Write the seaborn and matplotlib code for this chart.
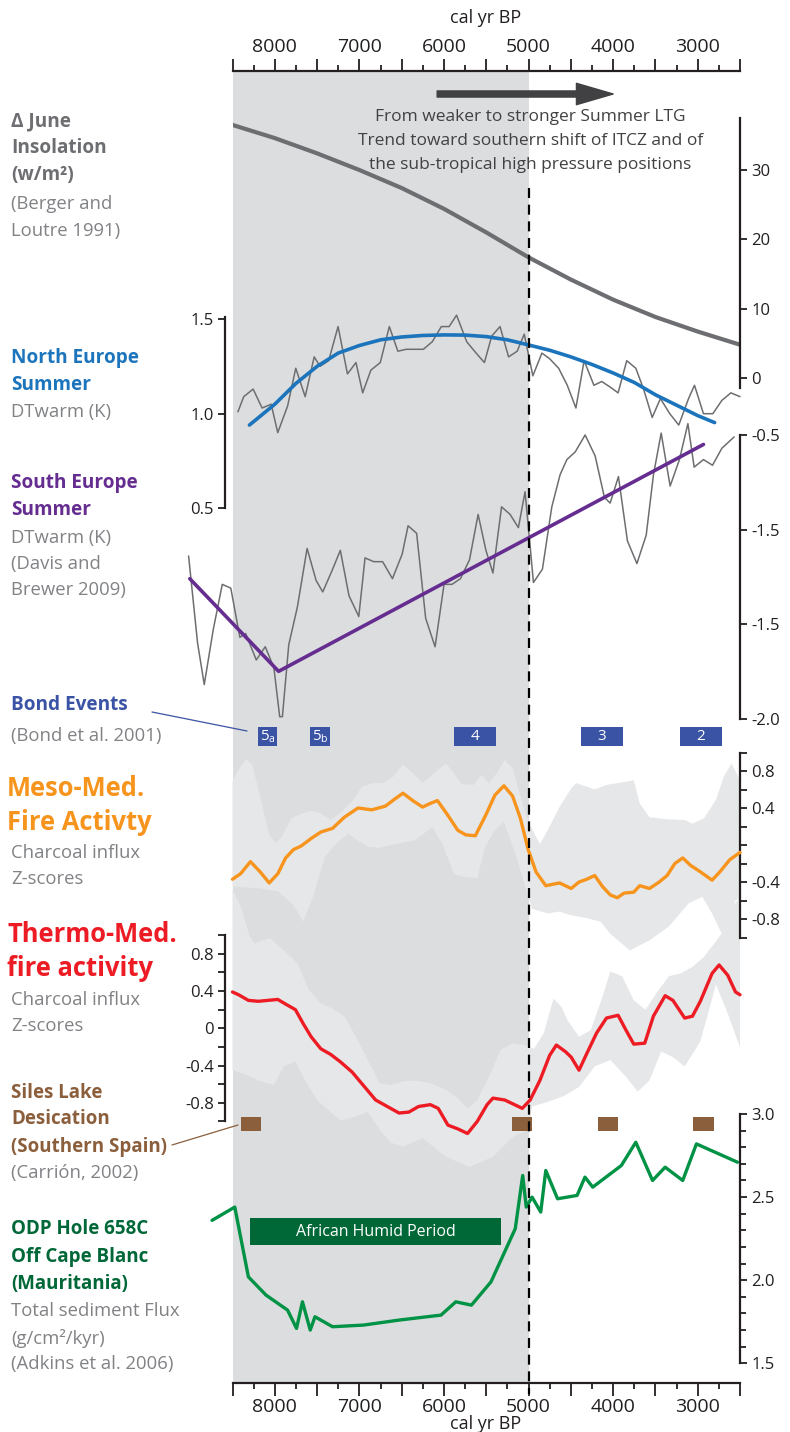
import numpy as np
import matplotlib.pyplot as plt
import seaborn as sns
from matplotlib.ticker import FixedLocator

# ---------------- data (cal yr BP on x) ----------------
ins_years = [8500, 8000, 7500, 7000, 6500, 6000, 5500, 5000, 4500, 4000, 3500, 3000, 2500]
ins_vals = [36.5, 34.6, 32.4, 30.0, 27.4, 24.4, 21.0, 17.4, 14.2, 11.3, 8.8, 6.7, 4.8]

ne_years = [8436, 8367, 8256, 8150, 8043, 7965, 7849, 7752, 7641, 7534, 7465, 7363, 7252, 7141, 7040,
            6961, 6864, 6753, 6646, 6545, 6447, 6346, 6244, 6138, 6031, 5939, 5851, 5731, 5620, 5522,
            5435, 5337, 5236, 5134, 5051, 4949, 4842, 4750, 4644, 4542, 4440, 4343, 4227, 4135, 4033,
            3941, 3839, 3732, 3640, 3538, 3441, 3330, 3224, 3108, 3038, 2932, 2821, 2715, 2608, 2500]
ne_vals = [1.01, 1.09, 1.13, 1.03, 1.05, 0.90, 1.04, 1.24, 1.09, 1.30, 1.25, 1.28, 1.46, 1.21, 1.27,
           1.11, 1.23, 1.27, 1.46, 1.33, 1.34, 1.34, 1.34, 1.38, 1.46, 1.46, 1.52, 1.38, 1.32, 1.27,
           1.41, 1.46, 1.30, 1.33, 1.42, 1.20, 1.32, 1.29, 1.24, 1.15, 1.03, 1.28, 1.15, 1.17, 1.14,
           1.11, 1.28, 1.24, 1.13, 0.98, 1.08, 1.00, 0.94, 1.08, 1.15, 1.00, 1.00, 1.07, 1.11, 1.09]
ne_fit_years = [8300, 8000, 7750, 7500, 7250, 7000, 6750, 6500, 6250, 6000, 5750, 5500, 5250, 5000,
                4750, 4500, 4250, 4000, 3750, 3500, 3250, 3000, 2800]
ne_fit_vals = [0.94, 1.05, 1.16, 1.25, 1.32, 1.36, 1.39, 1.405, 1.413, 1.416, 1.415, 1.407, 1.39, 1.363,
               1.335, 1.30, 1.26, 1.215, 1.165, 1.10, 1.045, 0.99, 0.953]

se_years = [9019, 8913, 8834, 8728, 8621, 8520, 8413, 8344, 8219, 8113, 8011, 7942, 7910, 7835, 7733,
            7618, 7511, 7433, 7326, 7225, 7123, 7007, 6933, 6831, 6725, 6609, 6494, 6424, 6323, 6216,
            6105, 5999, 5906, 5805, 5698, 5596, 5504, 5421, 5319, 5218, 5120, 5041, 4942, 4836, 4725,
            4627, 4547, 4449, 4331, 4213, 4103, 4035, 3937, 3831, 3719, 3609, 3523, 3432, 3326, 3216,
            3116, 3042, 2932, 2825, 2714, 2569]
se_vals = [-1.14, -1.60, -1.82, -1.53, -1.29, -1.31, -1.57, -1.55, -1.69, -1.62, -1.73, -1.99, -1.99, -1.61, -1.41,
           -1.10, -1.27, -1.33, -1.22, -1.11, -1.35, -1.46, -1.15, -1.17, -1.17, -1.26, -1.13, -0.98, -1.02, -1.47,
           -1.62, -1.29, -1.29, -1.26, -1.16, -0.92, -1.11, -1.23, -0.88, -0.92, -0.99, -0.80, -1.28, -1.21, -0.88,
           -0.71, -0.63, -0.59, -0.50, -0.61, -0.83, -0.86, -0.72, -1.06, -1.18, -1.03, -0.71, -0.49, -0.77, -0.63,
           -0.44, -0.67, -0.63, -0.66, -0.57, -0.51]
se_trend_years = [9005, 7955, 2932]
se_trend_vals = [-1.26, -1.75, -0.55]

bond_labels = ['5$_\\mathrm{a}$', '5$_\\mathrm{b}$', '4', '3', '2']
bond_start = [8200, 7580, 5880, 4380, 3210]
bond_end = [7970, 7350, 5380, 3880, 2710]

meso_years = [8500, 8404, 8288, 8173, 8066, 7964, 7872, 7780, 7687, 7571, 7456, 7317, 7178, 7016, 6854,
              6693, 6577, 6485, 6369, 6253, 6161, 6077, 5953, 5837, 5744, 5629, 5513, 5397, 5291, 5189,
              5097, 5004, 4912, 4796, 4634, 4496, 4403, 4311, 4218, 4125, 4033, 3950, 3871, 3756, 3686,
              3570, 3455, 3362, 3270, 3177, 3085, 2969, 2830, 2738, 2622, 2500]
meso_vals = [-0.37, -0.31, -0.18, -0.29, -0.41, -0.31, -0.14, -0.05, -0.01, 0.07, 0.14, 0.18, 0.30, 0.40, 0.38,
             0.42, 0.50, 0.56, 0.48, 0.41, 0.45, 0.48, 0.32, 0.16, 0.11, 0.10, 0.31, 0.54, 0.64, 0.53,
             0.29, -0.05, -0.29, -0.44, -0.41, -0.47, -0.40, -0.37, -0.33, -0.45, -0.54, -0.57, -0.52, -0.51, -0.44,
             -0.47, -0.40, -0.33, -0.20, -0.14, -0.22, -0.29, -0.38, -0.29, -0.16, -0.08]
meso_hi_years = [8500, 8404, 8335, 8265, 8173, 8066, 7988, 7918, 7803, 7687, 7571, 7456, 7340, 7224, 7086,
                 6970, 6854, 6716, 6600, 6485, 6392, 6253, 6114, 5976, 5883, 5791, 5652, 5560, 5467, 5374,
                 5282, 5189, 5027, 4935, 4865, 4773, 4634, 4496, 4440, 4311, 4218, 4079, 3941, 3756, 3686,
                 3570, 3385, 3154, 3062, 2923, 2784, 2692, 2599, 2500]
meso_hi = [0.69, 0.85, 0.93, 0.87, 0.52, 0.11, 0.02, 0.09, 0.29, 0.34, 0.37, 0.34, 0.27, 0.35, 0.47,
           0.63, 0.67, 0.67, 0.74, 0.87, 0.80, 0.67, 0.78, 0.88, 0.78, 0.66, 0.65, 0.76, 0.67, 0.78,
           0.92, 0.83, 0.31, 0.13, 0.01, 0.16, 0.41, 0.61, 0.67, 0.63, 0.60, 0.65, 0.67, 0.70, 0.45,
           0.30, 0.28, 0.27, 0.23, 0.29, 0.49, 0.74, 0.88, 0.70]
meso_lo_years = [8500, 8173, 7964, 7780, 7664, 7548, 7409, 7271, 7132, 6900, 6762, 6577, 6346, 6138, 6022,
                 5883, 5791, 5606, 5513, 5397, 5291, 5143, 5051, 4958, 4773, 4634, 4496, 4311, 4148, 4033,
                 3802, 3570, 3339, 3108, 2946, 2830, 2715, 2553, 2500]
meso_lo = [-0.45, -0.47, -0.50, -0.65, -0.83, -0.56, -0.13, 0.02, 0.12, -0.02, -0.03, 0.01, 0.05, 0.19, 0.02,
           -0.31, -0.34, -0.36, -0.02, 0.16, 0.25, -0.13, -0.42, -0.69, -0.74, -0.72, -0.76, -0.79, -0.83, -0.96,
           -1.14, -1.03, -0.88, -0.63, -0.56, -0.74, -0.96, -0.60, -0.58]

thermo_years = [8500, 8427, 8312, 8196, 8080, 7965, 7872, 7756, 7664, 7571, 7456, 7340, 7225, 7086, 6947,
                6808, 6670, 6531, 6415, 6300, 6161, 6068, 5953, 5837, 5721, 5606, 5490, 5421, 5282, 5166,
                5074, 4981, 4866, 4750, 4671, 4565, 4496, 4403, 4311, 4195, 4079, 3941, 3848, 3756, 3626,
                3524, 3385, 3293, 3154, 3062, 2969, 2830, 2747, 2645, 2553, 2500]
thermo_vals = [0.39, 0.36, 0.30, 0.29, 0.30, 0.31, 0.26, 0.20, 0.05, -0.09, -0.22, -0.28, -0.36, -0.47, -0.62,
               -0.77, -0.84, -0.91, -0.90, -0.84, -0.82, -0.86, -1.04, -1.08, -1.13, -1.00, -0.82, -0.75, -0.77, -0.82,
               -0.86, -0.77, -0.56, -0.29, -0.18, -0.25, -0.31, -0.45, -0.27, -0.05, 0.11, 0.14, -0.02, -0.17, -0.16,
               0.13, 0.35, 0.30, 0.11, 0.13, 0.29, 0.59, 0.68, 0.57, 0.39, 0.36]
thermo_hi_years = [8500, 8400, 8300, 8242, 8057, 7872, 7733, 7595, 7456, 7317, 7178, 7040, 6901, 6762, 6623,
                   6485, 6346, 6161, 5976, 5837, 5721, 5606, 5467, 5328, 5189, 5051, 4935, 4819, 4704, 4611,
                   4542, 4403, 4264, 4125, 4033, 3894, 3756, 3617, 3478, 3339, 3200, 3062, 2923, 2830, 2715,
                   2600, 2500]
thermo_hi = [1.5, 1.3, 1.0, 0.91, 0.97, 0.82, 0.70, 0.41, 0.27, 0.21, 0.13, -0.09, -0.34, -0.59, -0.61,
             -0.57, -0.56, -0.59, -0.66, -0.75, -0.86, -0.77, -0.52, -0.23, -0.16, -0.18, -0.22, -0.05, 0.32, 0.23,
             0.09, -0.09, -0.02, 0.34, 0.61, 0.56, 0.30, 0.20, 0.39, 0.56, 0.59, 0.66, 0.77, 0.88, 1.02,
             1.3, 1.4]
thermo_lo_years = [8500, 8335, 8196, 8011, 7895, 7756, 7641, 7502, 7363, 7225, 7050, 6900, 6750, 6623, 6485,
                   6253, 5976, 5698, 5421, 5189, 5004, 4958, 4773, 4588, 4403, 4218, 4033, 3848, 3709, 3570,
                   3432, 3293, 3154, 2969, 2784, 2645, 2530, 2500]
thermo_lo = [-0.45, -0.50, -0.56, -0.61, -0.41, -0.36, -0.56, -0.77, -0.88, -0.99, -0.95, -0.90, -1.10, -1.23, -1.27,
             -1.18, -1.38, -1.49, -1.38, -1.17, -1.09, -0.84, -0.79, -0.73, -0.63, -0.41, -0.34, -0.52, -0.68, -0.56,
             -0.25, -0.31, -0.41, -0.14, 0.47, 0.16, -0.13, -0.20]

siles_start = [8400, 5200, 4180, 3050]
siles_end = [8160, 4960, 3940, 2810]

odp_years = [8742, 8473, 8312, 8103, 7849, 7743, 7673, 7581, 7525, 7317, 6951, 6531, 6035, 5860, 5675,
             5444, 5157, 5069, 5027, 4958, 4856, 4796, 4657, 4426, 4333, 4241, 3903, 3732, 3534, 3385,
             3177, 3015, 2530]
odp_vals = [2.36, 2.44, 2.02, 1.91, 1.82, 1.71, 1.87, 1.70, 1.78, 1.72, 1.73, 1.76, 1.79, 1.87, 1.85,
            1.99, 2.31, 2.63, 2.44, 2.50, 2.41, 2.66, 2.49, 2.51, 2.62, 2.56, 2.69, 2.83, 2.60, 2.68,
            2.60, 2.82, 2.71]
ahp_start, ahp_end = 8290, 5320

# ---------------- style ----------------
sns.set_style("ticks")
plt.rcParams['font.family'] = ['Open Sans', 'DejaVu Sans']
plt.rcParams['mathtext.fontset'] = 'custom'
plt.rcParams['mathtext.rm'] = 'Open Sans'
plt.rcParams['axes.unicode_minus'] = False

INK = '#231f20'
GRAY_T = '#6d6e71'
GRAY_S = '#808285'
BAND = '#e6e7e8'
SHADE = '#dcddde'

W, H = 790, 1432
L_PX, R_PX = 232.5, 740.0

fig = plt.figure(figsize=(W / 100, H / 100), dpi=100)


def rect(top_px, bot_px):
    return [L_PX / W, 1 - bot_px / H, (R_PX - L_PX) / W, (bot_px - top_px) / H]


def panel(top_px, bot_px, vtop, vbot, side=None, z=2):
    ax = fig.add_axes(rect(top_px, bot_px), zorder=z)
    ax.set_xlim(8500, 2500)
    ax.set_ylim(vbot, vtop)
    ax.patch.set_visible(False)
    for s in ax.spines.values():
        s.set_visible(False)
    ax.set_xticks([])
    if side is None:
        ax.set_yticks([])
    else:
        sp = ax.spines[side]
        sp.set_visible(True)
        sp.set_linewidth(1.6)
        sp.set_color(INK)
        if side == 'left':
            sp.set_position(('outward', 5.4))
        ax.tick_params(axis='y', which='both', left=(side == 'left'), right=(side == 'right'),
                       labelleft=(side == 'left'), labelright=(side == 'right'),
                       direction='out', colors=INK, width=1.3, labelsize=12, pad=3)
        ax.tick_params(axis='y', which='major', length=5)
        ax.tick_params(axis='y', which='minor', length=4)
    return ax


def line(ax, x, y, **kw):
    sns.lineplot(x=x, y=y, ax=ax, sort=False, estimator=None, **kw)


# ---------------- frame with time axes ----------------
frame = fig.add_axes(rect(71, 1383), zorder=0)
frame.set_xlim(8500, 2500)
frame.set_ylim(0, 1)
frame.axvspan(8500, 5000, color=SHADE, lw=0)
frame.spines['left'].set_visible(False)
frame.spines['right'].set_visible(False)
for s in ['top', 'bottom']:
    frame.spines[s].set_linewidth(1.6)
    frame.spines[s].set_color(INK)
frame.set_yticks([])
majors = list(range(8500, 2499, -500))
frame.xaxis.set_major_locator(FixedLocator(majors))
frame.xaxis.set_minor_locator(FixedLocator(list(range(8250, 2600, -500))))
frame.set_xticklabels([str(v) if v % 1000 == 0 else '' for v in majors])
frame.tick_params(axis='x', which='both', top=True, bottom=True, labeltop=True, labelbottom=True,
                  direction='out', colors=INK, width=1.3, labelsize=14, pad=2)
frame.tick_params(axis='x', which='major', length=9)
frame.tick_params(axis='x', which='minor', length=4)

# ---------------- insolation ----------------
ax_ins = panel(118, 388.4, 37.5, -1.5, side='right')
ax_ins.set_yticks([0, 10, 20, 30])
line(ax_ins, ins_years, ins_vals, color=GRAY_T, lw=3)

# ---------------- North Europe ----------------
ax_ne = panel(317.1, 508.4, 1.51, 0.5, side='left')
ax_ne.set_yticks([0.5, 1.0, 1.5])
ax_ne.set_yticklabels(['0.5', '1.0', '1.5'])
line(ax_ne, ne_years, ne_vals, color=GRAY_T, lw=1.1, clip_on=False)
line(ax_ne, ne_fit_years, ne_fit_vals, color='#1c75bc', lw=2.6, clip_on=False)

# ---------------- South Europe ----------------
ax_se = panel(435, 718.6, -0.5, -2.0, side='right')
ax_se.set_yticks([-0.5, -1.0, -1.5, -2.0])
ax_se.set_yticklabels(['-0.5', '-1.5', '-1.5', '-2.0'])
line(ax_se, se_years, se_vals, color=GRAY_T, lw=1.1, clip_on=False)
line(ax_se, se_trend_years, se_trend_vals, color='#662d91', lw=2.6, clip_on=False)

# ---------------- Bond events ----------------
ax_bond = panel(727, 746, 1, 0)
for lab, a, b in zip(bond_labels, bond_start, bond_end):
    ax_bond.broken_barh([(b, a - b)], (0, 1), color='#3a53a4', lw=0)
    ax_bond.text((a + b) / 2, 0.5, lab, color='white', ha='center', va='center', fontsize=11)

# ---------------- Meso-Med fire ----------------
ax_meso = panel(752.5, 937.5, 1.0, -1.0, side='right', z=3)
ax_meso.set_yticks(np.round(np.arange(-1.0, 1.01, 0.2), 1))
ax_meso.set_yticklabels(['', '-0.8', '', '-0.4', '', '', '', '0.4', '', '0.8', ''])
ax_meso.fill(meso_hi_years + meso_lo_years[::-1], meso_hi + meso_lo[::-1],
             color=BAND, lw=0, clip_on=False, zorder=1)

# ---------------- Thermo-Med fire ----------------
ax_th = panel(935.2, 1121.4, 1.0, -1.0, side='left', z=2)
ax_th.set_yticks(np.round(np.arange(-1.0, 1.01, 0.2), 1))
ax_th.set_yticklabels(['', '-0.8', '', '-0.4', '', '0', '', '0.4', '', '0.8', ''])
ax_th.fill(thermo_hi_years + thermo_lo_years[::-1], thermo_hi + thermo_lo[::-1],
           color=BAND, lw=0, clip_on=False, zorder=1)

# curves on top of both bands
ax_curves = panel(752.5, 937.5, 1.0, -1.0, z=5)
line(ax_curves, meso_years, meso_vals, color='#f7941d', lw=2.4, clip_on=False)
ax_curves2 = panel(935.2, 1121.4, 1.0, -1.0, z=5)
line(ax_curves2, thermo_years, thermo_vals, color='#ed1c24', lw=2.4, clip_on=False)

# ---------------- Siles Lake ----------------
ax_sil = panel(1117, 1131, 1, 0, z=6)
for a, b in zip(siles_start, siles_end):
    ax_sil.broken_barh([(b, a - b)], (0, 1), color='#8b5e3c', lw=0)

# ---------------- ODP 658C ----------------
ax_odp = panel(1114, 1363.3, 3.0, 1.5, side='right', z=6)
ax_odp.set_yticks([1.5, 2.0, 2.5, 3.0])
ax_odp.set_yticklabels(['1.5', '2.0', '2.5', '3.0'])
ax_odp.yaxis.set_minor_locator(FixedLocator(np.round(np.arange(1.6, 3.0, 0.1), 1)))
ax_odp.broken_barh([(ahp_end, ahp_start - ahp_end)], (2.212, 0.162), color='#006837', lw=0)
ax_odp.text((ahp_start + ahp_end) / 2, 2.293, 'African Humid Period', color='white',
            ha='center', va='center', fontsize=11.5)
line(ax_odp, odp_years, odp_vals, color='#009245', lw=2.4, clip_on=False)

# ---------------- overlay: 5000 yr line, arrow, note ----------------
ov = fig.add_axes(rect(71, 1383), zorder=8)
ov.set_xlim(8500, 2500)
ov.set_ylim(1383, 71)
ov.axis('off')
ov.plot([5000, 5000], [188, 1394], color='black', lw=1.6, ls=(0, (4.5, 3)), clip_on=False)
ov.annotate('', xy=(4000, 94), xytext=(6080, 94),
            arrowprops=dict(arrowstyle='simple,head_length=1.2,head_width=0.7,tail_width=0.2',
                            color='#414042', mutation_scale=22, shrinkA=0, shrinkB=0))
for yy, s in [(117, 'From weaker to stronger Summer LTG'),
              (141, 'Trend toward southern shift of ITCZ and of'),
              (165, 'the sub-tropical high pressure positions')]:
    ov.text(4980, yy, s, ha='center', va='center', fontsize=12.5, color='#414042')

# ---------------- canvas for left-hand labels ----------------
cv = fig.add_axes([0, 0, 1, 1], zorder=9)
cv.set_xlim(0, W)
cv.set_ylim(H, 0)
cv.axis('off')
cv.text(486, 18, 'cal yr BP', ha='center', va='center', fontsize=13, color=INK)
cv.text(486, 1424, 'cal yr BP', ha='center', va='center', fontsize=13, color=INK)

BOLD, REG = 'bold', 'normal'
labels = [
    (121, 'Δ June', GRAY_T, BOLD, 13.7), (148, 'Insolation', GRAY_T, BOLD, 13.7),
    (175, '(w/m²)', GRAY_T, BOLD, 13.7),
    (204, '(Berger and', GRAY_S, REG, 13.3), (231, 'Loutre 1991)', GRAY_S, REG, 13.3),
    (358, 'North Europe', '#1c75bc', BOLD, 13.7), (385, 'Summer', '#1c75bc', BOLD, 13.7),
    (412, 'DTwarm (K)', GRAY_S, REG, 13.3),
    (483, 'South Europe', '#662d91', BOLD, 13.7), (510, 'Summer', '#662d91', BOLD, 13.7),
    (538, 'DTwarm (K)', GRAY_S, REG, 13.3), (564, '(Davis and', GRAY_S, REG, 13.3),
    (590, 'Brewer 2009)', GRAY_S, REG, 13.3),
    (705, 'Bond Events', '#3a53a4', BOLD, 13.7), (736, '(Bond et al. 2001)', GRAY_S, REG, 13.3),
    (788, 'Meso-Med.', '#f7941d', BOLD, 18.4), (823, 'Fire Activty', '#f7941d', BOLD, 18.4),
    (853, 'Charcoal influx', GRAY_S, REG, 13.3), (879, 'Z-scores', GRAY_S, REG, 13.3),
    (934, 'Thermo-Med.', '#ed1c24', BOLD, 18.4), (969, 'fire activity', '#ed1c24', BOLD, 18.4),
    (1000, 'Charcoal influx', GRAY_S, REG, 13.3), (1026, 'Z-scores', GRAY_S, REG, 13.3),
    (1093, 'Siles Lake', '#8b5e3c', BOLD, 13.5), (1119, 'Desication', '#8b5e3c', BOLD, 13.5),
    (1147, '(Southern Spain)', '#8b5e3c', BOLD, 13.5), (1173, '(Carrión, 2002)', GRAY_S, REG, 13.3),
    (1229, 'ODP Hole 658C', '#006838', BOLD, 13.5), (1257, 'Off Cape Blanc', '#006838', BOLD, 13.5),
    (1284, '(Mauritania)', '#006838', BOLD, 13.5),
    (1311, 'Total sediment Flux', GRAY_S, REG, 13.3), (1338, '(g/cm²/kyr)', GRAY_S, REG, 13.3),
    (1364, '(Adkins et al. 2006)', GRAY_S, REG, 13.3),
]
for yy, s, c, wt, fs in labels:
    xx = 7 if fs > 15 else 11
    cv.text(xx, yy, s, ha='left', va='center', color=c, fontweight=wt, fontsize=fs)

# leader lines
cv.plot([152, 247], [712, 731], color='#3a53a4', lw=0.9)
cv.plot([172, 238], [1145, 1125], color='#8b5e3c', lw=0.9)

fig.savefig('out.png', dpi=100)
